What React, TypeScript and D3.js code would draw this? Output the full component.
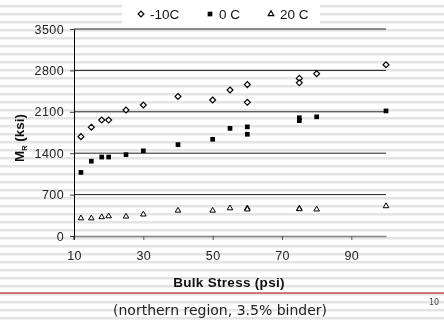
import React, { useEffect, useRef } from 'react'
import * as d3 from 'd3'

// bulk stress (psi) readings, shared by all three temperatures
const stress = [12, 15, 18, 20, 25, 30, 40, 50, 55, 60, 60, 75, 75, 80, 100]
// resilient modulus MR (ksi)
const mrMinus10 = [1680, 1840, 1960, 1960, 2130, 2215, 2360, 2300, 2470, 2560, 2260, 2665, 2590, 2745, 2895]
const mrZero = [1075, 1265, 1335, 1335, 1375, 1440, 1545, 1635, 1820, 1845, 1720, 2000, 1950, 2015, 2115]
const mrTwenty = [300, 300, 320, 335, 330, 365, 430, 430, 470, 470, 450, 465, 455, 450, 505]

const yTicks = [0, 700, 1400, 2100, 2800, 3500]
const xTicks = [10, 30, 50, 70, 90]
const seriesNames = ['-10C', '0 C', '20 C']

const W = 444
const H = 325

export default function App() {
  const ref = useRef<SVGSVGElement>(null)

  useEffect(() => {
    const svg = d3.select(ref.current)
    svg.selectAll('*').remove()

    // striped slide background
    const defs = svg.append('defs')
    const pat = defs.append('pattern')
      .attr('id', 'stripes')
      .attr('width', 8).attr('height', 8)
      .attr('patternUnits', 'userSpaceOnUse')
    pat.append('rect').attr('width', 8).attr('height', 8).attr('fill', '#fff')
    pat.append('rect').attr('y', 5).attr('width', 8).attr('height', 2.5).attr('fill', '#e4e4e4')
    svg.append('rect').attr('width', W).attr('height', H).attr('fill', 'url(#stripes)')

    const x = d3.scaleLinear().domain([10, 100]).range([74, 386])
    const y = d3.scaleLinear().domain([0, 3500]).range([236, 29])

    const font = 'Liberation Sans, Arial, sans-serif'

    // gridlines
    svg.append('g').selectAll('line')
      .data(yTicks.filter(d => d > 0))
      .enter().append('line')
      .attr('x1', x(10)).attr('x2', x(100))
      .attr('y1', d => y(d)).attr('y2', d => y(d))
      .attr('stroke', '#222').attr('stroke-width', 1)

    // y axis
    const yAxis = svg.append('g').attr('transform', 'translate(' + x(10) + ',0)')
      .call(d3.axisLeft(y).tickValues(yTicks).tickSize(4).tickSizeOuter(0).tickFormat(d3.format('d')))
    yAxis.select('.domain').attr('stroke', '#000')
    yAxis.selectAll('text').attr('font-family', font).attr('font-size', 12.5).attr('letter-spacing', 0.4).attr('fill', '#222').attr('dx', -3)
    yAxis.selectAll('line').attr('stroke', '#444')

    // x axis
    const xAxis = svg.append('g').attr('transform', 'translate(0,' + y(0) + ')')
      .call(d3.axisBottom(x).tickValues(xTicks).tickSize(4).tickSizeOuter(0).tickFormat(d3.format('d')))
    xAxis.select('.domain').attr('stroke', '#808080').attr('stroke-width', 1.5)
    xAxis.selectAll('line').attr('stroke', '#555')
    xAxis.selectAll('text').attr('font-family', font).attr('font-size', 12.5).attr('letter-spacing', 0.4).attr('fill', '#222').attr('dy', '1.35em')
    svg.append('line')
      .attr('x1', x(10)).attr('x2', x(10)).attr('y1', y(0)).attr('y2', y(0) + 4)
      .attr('stroke', '#000')

    const diamond = d3.symbol().type(d3.symbolDiamond2).size(22)
    const square = d3.symbol().type(d3.symbolSquare).size(22)
    const triangle = d3.symbol().type(d3.symbolTriangle2).size(22)

    svg.append('g').selectAll('path')
      .data(stress.map((s, i) => [s, mrTwenty[i]]))
      .enter().append('path')
      .attr('d', triangle)
      .attr('transform', d => 'translate(' + x(d[0]) + ',' + y(d[1]) + ')')
      .attr('fill', '#fff').attr('stroke', '#000').attr('stroke-width', 1)

    svg.append('g').selectAll('path')
      .data(stress.map((s, i) => [s, mrZero[i]]))
      .enter().append('path')
      .attr('d', square)
      .attr('transform', d => 'translate(' + x(d[0]) + ',' + y(d[1]) + ')')
      .attr('fill', '#000')

    svg.append('g').selectAll('path')
      .data(stress.map((s, i) => [s, mrMinus10[i]]))
      .enter().append('path')
      .attr('d', diamond)
      .attr('transform', d => 'translate(' + x(d[0]) + ',' + y(d[1]) + ')')
      .attr('fill', '#fff').attr('stroke', '#000').attr('stroke-width', 1.2)

    // legend
    svg.append('rect').attr('x', 122).attr('y', 0).attr('width', 198).attr('height', 25).attr('fill', '#fff')
    const legendX = [141, 210, 271]
    const legendSym = [diamond, square, triangle]
    const lg = svg.append('g').selectAll('g')
      .data(seriesNames)
      .enter().append('g')
      .attr('transform', (d, i) => 'translate(' + legendX[i] + ',14)')
    lg.append('path')
      .attr('d', (d, i) => legendSym[i]())
      .attr('fill', (d, i) => (i === 1 ? '#000' : '#fff'))
      .attr('stroke', (d, i) => (i === 1 ? 'none' : '#000'))
      .attr('stroke-width', 1.2)
    lg.append('text')
      .attr('x', 9).attr('dy', '0.36em')
      .attr('font-family', font).attr('font-size', 13.5).attr('fill', '#111')
      .text(d => d)

    // axis titles
    svg.append('text')
      .attr('x', 229).attr('y', 287)
      .attr('text-anchor', 'middle')
      .attr('font-family', font).attr('font-size', 13.5).attr('font-weight', 'bold').attr('letter-spacing', 0.3).attr('fill', '#111')
      .text('Bulk Stress (psi)')

    const yt = svg.append('text')
      .attr('transform', 'translate(24,138) rotate(-90)')
      .attr('text-anchor', 'middle')
      .attr('font-family', font).attr('font-size', 13.5).attr('font-weight', 'bold').attr('fill', '#111')
    yt.append('tspan').text('M')
    yt.append('tspan').attr('font-size', 7.5).attr('dy', 3).text('R')
    yt.append('tspan').attr('dy', -3).text(' (ksi)')

    // slide footer
    svg.append('line')
      .attr('x1', 0).attr('x2', W).attr('y1', 293).attr('y2', 293)
      .attr('stroke', '#b00000').attr('stroke-width', 1)
    svg.append('text')
      .attr('x', 220).attr('y', 315)
      .attr('text-anchor', 'middle')
      .attr('font-family', 'DejaVu Sans, Verdana, sans-serif').attr('font-size', 14).attr('fill', '#222')
      .text('(northern region, 3.5% binder)')
    svg.append('text')
      .attr('x', 434).attr('y', 305)
      .attr('text-anchor', 'middle')
      .attr('font-family', 'DejaVu Sans, Verdana, sans-serif').attr('font-size', 8).attr('fill', '#444')
      .text('10')
  }, [])

  return (
    <div style={{ position: 'fixed', left: 0, top: 0 }}>
      <svg ref={ref} width={W} height={H} style={{ display: 'block' }}></svg>
    </div>
  )
}
